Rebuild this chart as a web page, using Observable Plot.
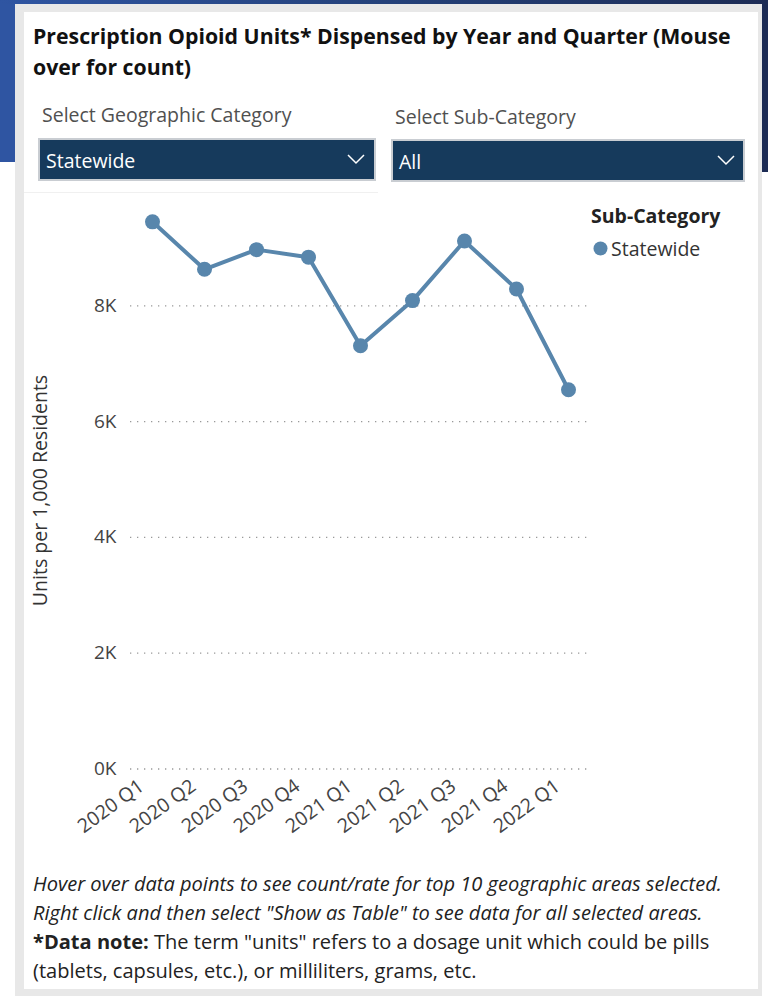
<!DOCTYPE html>
<html>
<head>
<meta charset="utf-8">
<script src="https://cdn.jsdelivr.net/npm/d3@7"></script>
<script src="https://cdn.jsdelivr.net/npm/@observablehq/plot@0.6"></script>
<style>
  html, body { margin: 0; padding: 0; }
  body { width: 768px; height: 996px; position: relative; overflow: hidden; background: #fff; font-family: "Open Sans", "Noto Sans", sans-serif; }
  .abs { position: absolute; }
  #bgL { left: 0; top: 0; width: 15px; height: 162px; background: #2f55a2; }
  #bgT { left: 0; top: 0; width: 768px; height: 4px; background: linear-gradient(90deg, #2f55a2, #24417a 50%, #1d2c55); }
  #bgR { left: 762px; top: 0; width: 6px; height: 172px; background: #1d2c55; }
  #frame { left: 15px; top: 4px; width: 747px; height: 992px; background: #e8e8e8; }
  #panel { left: 24px; top: 12px; width: 734px; height: 977px; background: #fff; }
  #title { left: 33px; top: 20px; width: 712px; font-weight: 700; line-height: 31px; color: #111; }
  .sel { font-size: 19.5px; color: #505050; font-weight: 400; white-space: nowrap; }
  .dd { background: #163a5c; border: 2px solid #c9cdd2; box-sizing: border-box; color: #fff; font-size: 19.5px; }
  .dd span { position: absolute; left: 6px; top: 7px; }
  .dd svg { position: absolute; top: 14px; }
  #legend { left: 591px; top: 203px; }
  #caption { left: 33px; top: 869px; line-height: 29px; color: #222; white-space: nowrap; }
</style>
</head>
<body>
<div class="abs" id="bgL"></div>
<div class="abs" id="bgT"></div>
<div class="abs" id="bgR"></div>
<div class="abs" id="frame"></div>
<div class="abs" id="panel"></div>
<div class="abs" style="left:24px;top:192px;width:354px;height:1px;background:#f0f0f0"></div>
<div class="abs" id="title"></div>
<div class="abs sel" id="sel1" style="left:42px;top:101px"></div>
<div class="abs sel" id="sel2" style="left:395px;top:103px"></div>
<div class="abs dd" id="dd1" style="left:38px;top:138px;width:338px;height:43px"></div>
<div class="abs dd" id="dd2" style="left:391px;top:139px;width:354px;height:43px"></div>
<div class="abs" id="chart" style="left:24px;top:195px"></div>
<div class="abs" id="legend"></div>
<div class="abs" id="caption"></div>
<script>
// ---- data ----
const titleLine1 = "Prescription Opioid Units* Dispensed by Year and Quarter (Mouse";
const titleText = "Prescription Opioid Units* Dispensed by Year and Quarter (Mouse over for count)";
const geoLabel = "Select Geographic Category";
const subLabel = "Select Sub-Category";
const geoValue = "Statewide";
const subValue = "All";
const yLabel = "Units per 1,000 Residents";
const legendTitle = "Sub-Category";
const seriesName = "Statewide";
const quarters = ["2020 Q1","2020 Q2","2020 Q3","2020 Q4","2021 Q1","2021 Q2","2021 Q3","2021 Q4","2022 Q1"];
const values = [9450, 8630, 8970, 8840, 7310, 8090, 9120, 8290, 6550];
const yTicks = [0, 2000, 4000, 6000, 8000];
const captionLines = [
  "Hover over data points to see count/rate for top 10 geographic areas selected.",
  "Right click and then select \"Show as Table\" to see data for all selected areas."
];
const noteBold = "*Data note:";
const noteText1 = " The term \"units\" refers to a dosage unit which could be pills";
const noteText2 = "(tablets, capsules, etc.), or milliliters, grams, etc.";

const lineColor = "#5886ac";

// ---- font fitting helper (sizes text to the reference's measured widths) ----
const ctx = document.createElement("canvas").getContext("2d");
function fitSize(text, style, weight, family, target) {
  ctx.font = `${style} ${weight} 20px ${family}`;
  return 20 * target / ctx.measureText(text).width;
}

// ---- header ----
const titleEl = document.getElementById("title");
titleEl.textContent = titleText;
titleEl.style.fontSize = fitSize(titleLine1, "normal", 700, "'Open Sans'", 698) + "px";
document.getElementById("sel1").textContent = geoLabel;
document.getElementById("sel2").textContent = subLabel;
const chev = w => `<svg width="18" height="11" style="left:${w}px"><polyline points="1,1 9,9 17,1" fill="none" stroke="#fff" stroke-width="1.5"/></svg>`;
document.getElementById("dd1").innerHTML = `<span>${geoValue}</span>` + chev(307);
document.getElementById("dd2").innerHTML = `<span>${subValue}</span>` + chev(324);

// ---- chart ----
const data = quarters.map((q, i) => ({quarter: q, value: values[i]}));
const chart = Plot.plot({
  width: 734,
  height: 650,
  marginLeft: 106,
  marginRight: 168,
  marginTop: 16.5,
  marginBottom: 76.5,
  style: {fontFamily: "'Open Sans', sans-serif", fontSize: "18px", color: "#444", background: "transparent"},
  x: {type: "point", domain: quarters, padding: 0.4, label: null},
  y: {domain: [0, 9620], label: null},
  marks: [
    Plot.gridY(yTicks, {stroke: "#999", strokeOpacity: 1, strokeWidth: 1.3, strokeDasharray: "1.3,5.7"}),
    Plot.axisY(yTicks, {tickSize: 0, tickPadding: 14, tickFormat: d => (d / 1000) + "K", fontSize: 19, fill: "#444"}),
    Plot.axisX({tickSize: 0, tickRotate: -36, tickPadding: 4, fontSize: 19.5, fill: "#444", dx: -11, dy: 11}),
    Plot.text([yLabel], {frameAnchor: "left", rotate: -90, dx: -90, textAnchor: "middle", fontSize: 19.5, fill: "#333"}),
    Plot.line(data, {x: "quarter", y: "value", stroke: lineColor, strokeWidth: 4}),
    Plot.dot(data, {x: "quarter", y: "value", r: 7.5, fill: lineColor, stroke: "none"})
  ]
});
document.getElementById("chart").appendChild(chart);

// ---- legend ----
document.getElementById("legend").innerHTML =
  `<div style="font-weight:700;font-size:19.5px;color:#222;line-height:26px">${legendTitle}</div>` +
  `<div style="position:relative;height:26px;margin-top:7px"><svg width="16" height="16" style="position:absolute;left:2px;top:5px"><circle cx="7.5" cy="7.5" r="7" fill="${lineColor}"/></svg><span style="position:absolute;left:20px;top:0;font-size:19.5px;color:#333;line-height:26px">${seriesName}</span></div>`;

// ---- caption ----
const capEl = document.getElementById("caption");
capEl.style.fontSize = fitSize(captionLines[0], "italic", 400, "'Open Sans'", 689) + "px";
capEl.innerHTML =
  captionLines.map(l => `<i>${l}</i>`).join("<br>") + "<br><b>" + noteBold + "</b>" + noteText1 + "<br>" + noteText2;
</script>
</body>
</html>
